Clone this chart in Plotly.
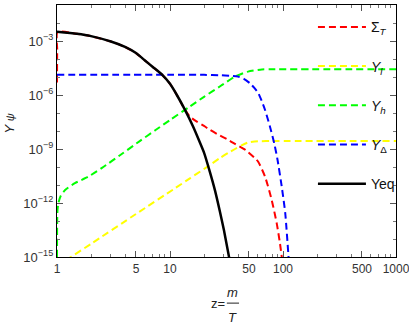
import plotly.graph_objects as go

# Data (z = m/T, log10 of abundance)
z_eq = [1, 1.5, 2, 3, 4, 5, 6, 7, 8.5, 10, 11.5, 13.5, 16, 18, 20, 22.6, 25, 27.7, 30, 34]
logy_eq = [-2.48, -2.60, -2.73, -3.03, -3.33, -3.67, -4.08, -4.43, -4.87, -5.38,
           -6.0, -6.8, -7.75, -8.5, -9.2, -10.3, -11.3, -12.5, -13.5, -15.3]

z_sigma = [1, 1.004, 1.012, 1.5, 2, 3, 4, 5, 6, 7, 8.5, 10, 11.5, 13.5, 15, 17.3, 20,
           22.6, 27, 31.8, 37.6, 46.7, 56.6, 60.5, 69.4, 79.4, 88, 94, 98]
logy_sigma = [-5.3, -3.5, -2.5, -2.60, -2.73, -3.03, -3.33, -3.67, -4.08, -4.43, -4.87,
              -5.38, -6.0, -6.8, -7.2, -7.48, -7.72, -7.94, -8.22, -8.45, -8.72, -9.06,
              -9.52, -9.72, -10.54, -11.83, -13.13, -14.24, -15.1]

z_l = [1.2, 1.33, 2, 5, 11.1, 15, 20, 27.7, 33, 37.6, 43, 49, 60, 80, 1000]
logy_l = [-15.19, -15.0, -14.27, -12.61, -11.18, -10.63, -10.11, -9.5, -9.2, -9.0,
          -8.8, -8.64, -8.57, -8.56, -8.56]

z_h = [1, 1.003, 1.01, 1.03, 1.08, 1.18, 1.44, 1.89, 2.5, 3.74, 5.4, 7.4, 10, 15,
       20, 28, 37.6, 49, 65, 80, 1000]
logy_h = [-15.0, -13.2, -12.4, -12.0, -11.6, -11.28, -10.9, -10.54, -10.05, -9.28,
          -8.56, -7.96, -7.39, -6.64, -6.1, -5.5, -4.98, -4.7, -4.58, -4.57, -4.57]

z_delta = [1, 10, 20, 28, 34, 40, 45, 51, 56, 60.5, 65, 69.4, 76.7, 83.6, 89.5,
           97.5, 104.7, 112, 113]
logy_delta = [-4.87, -4.87, -4.88, -4.9, -4.93, -4.98, -5.1, -5.35, -5.62, -5.9,
              -6.35, -6.83, -7.76, -8.68, -9.61, -11.1, -12.57, -15.0, -15.3]

x_tickvals = [1, 5, 10, 50, 100, 500, 1000]
x_minor = [2, 3, 4, 6, 7, 8, 9, 20, 30, 40, 60, 70, 80, 90,
           200, 300, 400, 600, 700, 800, 900]
y_exps = [-15, -12, -9, -6, -3]
y_minor_exps = list(range(-15, 0))

font = "Liberation Sans, Arial, sans-serif"
dash = "7px,4px"

series = [
    ("Σ<sub><i>T</i></sub>", z_sigma, logy_sigma, "#ff0000", dash, 2),
    ("<i>Y</i><sub><i>l</i></sub>", z_l, logy_l, "#ffff00", dash, 2),
    ("<i>Y</i><sub><i>h</i></sub>", z_h, logy_h, "#00ff00", dash, 2),
    ("<i>Y</i><sub>Δ</sub>", z_delta, logy_delta, "#0000ff", dash, 2),
    ("Yeq", z_eq, logy_eq, "#000000", "solid", 2.5),
]

fig = go.Figure()
for i, (name, xs, ls, col, dsh, w) in enumerate(series):
    fig.add_trace(go.Scatter(
        x=xs, y=[10 ** v for v in ls], mode="lines", name=name,
        legendgroup=str(i),
        line=dict(color=col, dash=dsh, width=w, shape="spline", smoothing=0.6),
    ))

fig.update_layout(
    width=409, height=327,
    margin=dict(l=57, r=13, t=5, b=70),
    paper_bgcolor="white", plot_bgcolor="white",
    font=dict(family=font, size=13, color="#333"),
    showlegend=True,
    legend=dict(
        x=0.755, y=0.975, xanchor="left", yanchor="top",
        bgcolor="rgba(0,0,0,0)", borderwidth=0,
        font=dict(size=14, color="#111"),
        traceorder="grouped", tracegroupgap=18, itemwidth=48,
        maxheight=400,
    ),
    xaxis=dict(
        type="log", range=[0, 3], automargin=False,
        tickmode="array", tickvals=x_tickvals,
        ticktext=[str(v) for v in x_tickvals],
        tickfont=dict(size=12), ticklabeloverflow="allow",
        ticks="inside", ticklen=6, tickcolor="#555",
        showline=True, linecolor="black", linewidth=1.3, mirror="allticks",
        showgrid=False, zeroline=False,
        minor=dict(tickvals=x_minor, ticks="inside", ticklen=3, tickcolor="#777", showgrid=False),
    ),
    yaxis=dict(
        type="log", range=[-15, -1], automargin=False,
        tickmode="array", tickvals=[10 ** e for e in y_exps],
        ticktext=["10<sup>−%d</sup>" % -e for e in y_exps],
        ticks="inside", ticklen=6, tickcolor="#555",
        showline=True, linecolor="black", linewidth=1.3, mirror="allticks",
        showgrid=False, zeroline=False,
        minor=dict(tickvals=[10 ** e for e in y_minor_exps], ticks="inside",
                   ticklen=3, tickcolor="#777", showgrid=False),
    ),
)

# axis labels
lab = dict(size=13, color="#222")
fig.add_annotation(x=-0.14, y=0.528, xref="paper", yref="paper", showarrow=False,
                   xanchor="center", yanchor="middle",
                   text="<i>Y</i> <span style='font-size:11px'><i>ψ</i></span>",
                   textangle=-90, font=lab)
fig.add_annotation(x=0.501, y=-0.183, xref="paper", yref="paper", showarrow=False,
                   xanchor="right", yanchor="middle", text="z=", font=lab)
fig.add_annotation(x=0.519, y=-0.139, xref="paper", yref="paper", showarrow=False,
                   xanchor="center", yanchor="middle", text="<i>m</i>", font=lab)
fig.add_annotation(x=0.518, y=-0.242, xref="paper", yref="paper", showarrow=False,
                   xanchor="center", yanchor="middle", text="<i>T</i>", font=lab)
fig.add_shape(type="line", xref="paper", yref="paper", x0=0.501, x1=0.537,
              y0=-0.183, y1=-0.183, line=dict(color="#222", width=1))

# drop the default page margin so the figure sits at the window corner
fig.write_html("out.html", config={"displayModeBar": False},
               post_script="document.body.style.margin='0';")
